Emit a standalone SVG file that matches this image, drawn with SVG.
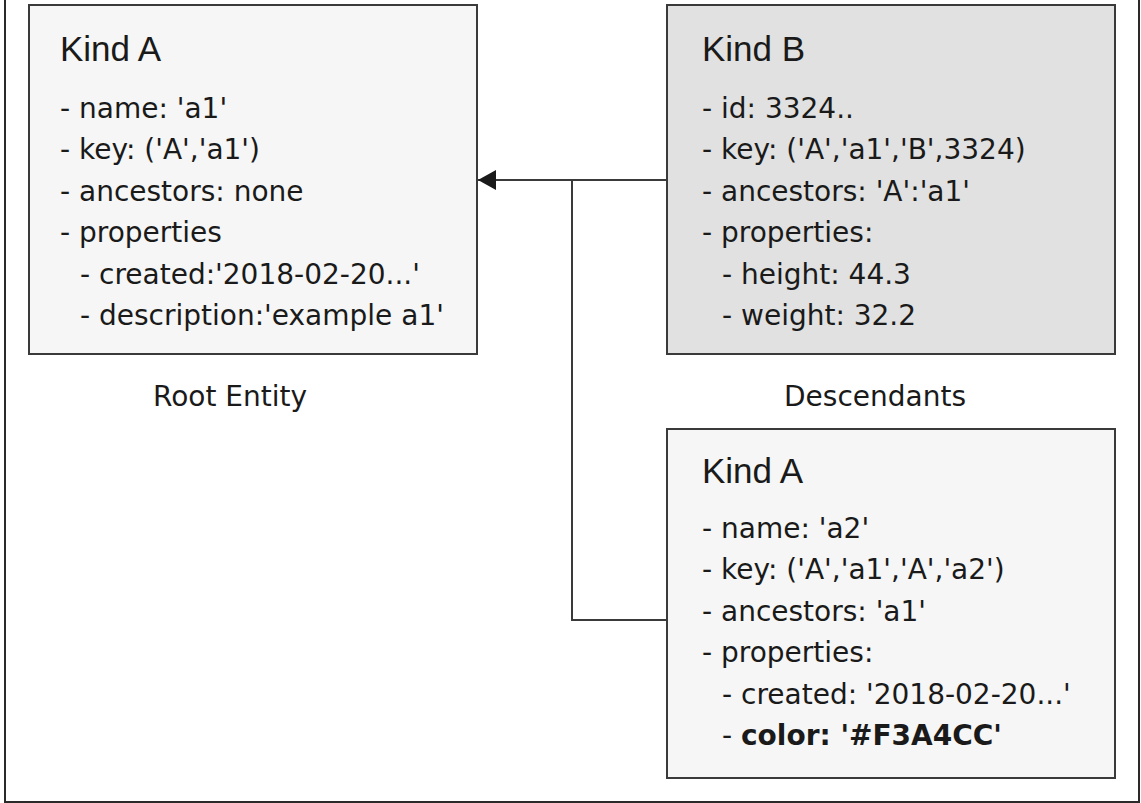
<svg xmlns="http://www.w3.org/2000/svg" width="1141" height="803" viewBox="0 0 1141 803">
  <style>
    .box { stroke: #3a3a3a; stroke-width: 2; }
    .light { fill: #f5f6f5; }
    .dark { fill: #e0e1e0; }
    .title { font-family: "Liberation Sans", Arial, sans-serif; font-size: 35px; fill: #1a1a1a; }
    .item { font-family: "DejaVu Sans", "Liberation Sans", sans-serif; font-size: 28px; fill: #1a1a1a; }
    .bold { font-weight: bold; }
    .label { font-family: "DejaVu Sans", "Liberation Sans", sans-serif; font-size: 28px; fill: #1a1a1a; }
    .conn { fill: none; stroke: #3a3a3a; stroke-width: 2; }
  </style>
  <defs>
    <marker id="arrow" markerUnits="userSpaceOnUse" markerWidth="18" markerHeight="20" viewBox="0 0 18 20" refX="18" refY="10" orient="auto">
      <path d="M0,0 L18,10 L0,20 z" fill="#1a1a1a"/>
    </marker>
  </defs>
  <rect width="1141" height="803" fill="#ffffff"/>
  <rect id="frame" x="5" y="-10" width="1134" height="812" fill="none" stroke="#2a2a2a" stroke-width="2"/>

  <g id="connectors">
    <path class="conn" d="M667,180 H478" marker-end="url(#arrow)"/>
    <path class="conn" d="M572,180 V620 H667"/>
  </g>

  <g id="root-entity">
    <rect class="box light" x="29" y="5" width="448" height="349"/>
    <text class="title" x="60" y="61">Kind A</text>
    <text class="item" x="60" y="117.5">- name: 'a1'</text>
    <text class="item" x="60" y="159">- key: ('A','a1')</text>
    <text class="item" x="60" y="200.5">- ancestors: none</text>
    <text class="item" x="60" y="242">- properties</text>
    <text class="item" x="80" y="283.5">- created:'2018-02-20...'</text>
    <text class="item" x="80" y="325">- description:'example a1'</text>
  </g>

  <g id="kind-b">
    <rect class="box dark" x="667" y="5" width="448" height="349"/>
    <text class="title" x="702" y="61">Kind B</text>
    <text class="item" x="702" y="117.5">- id: 3324..</text>
    <text class="item" x="702" y="159">- key: ('A','a1','B',3324)</text>
    <text class="item" x="702" y="200.5">- ancestors: 'A':'a1'</text>
    <text class="item" x="702" y="242">- properties:</text>
    <text class="item" x="722" y="283.5">- height: 44.3</text>
    <text class="item" x="722" y="325">- weight: 32.2</text>
  </g>

  <g id="kind-a-child">
    <rect class="box light" x="667" y="429" width="448" height="349"/>
    <text class="title" x="702" y="483">Kind A</text>
    <text class="item" x="702" y="537.5">- name: 'a2'</text>
    <text class="item" x="702" y="579">- key: ('A','a1','A','a2')</text>
    <text class="item" x="702" y="620.5">- ancestors: 'a1'</text>
    <text class="item" x="702" y="662">- properties:</text>
    <text class="item" x="722" y="703.5">- created: '2018-02-20...'</text>
    <text class="item" x="722" y="745">- <tspan class="bold">color: '#F3A4CC'</tspan></text>
  </g>

  <g id="labels">
    <text class="label" x="153" y="406">Root Entity</text>
    <text class="label" x="784" y="406">Descendants</text>
  </g>
</svg>
